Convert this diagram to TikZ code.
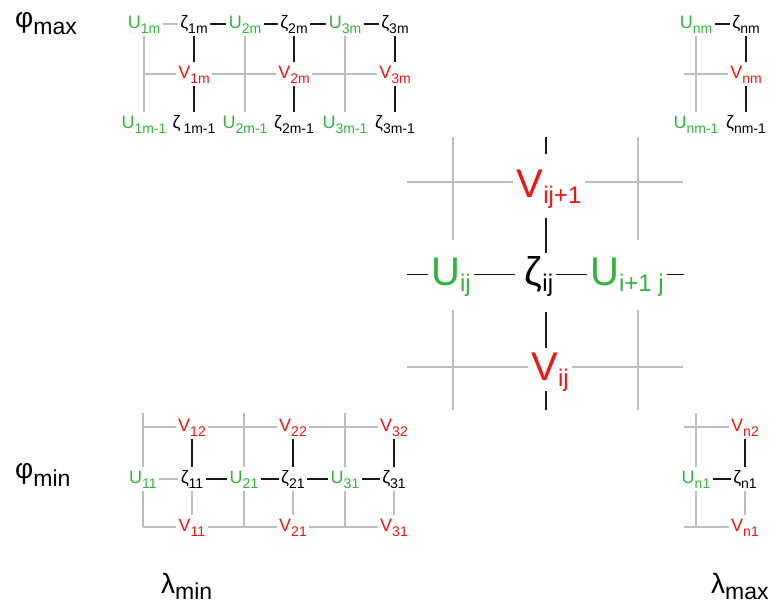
\documentclass[tikz,border=0pt]{standalone}
\usepackage{fontspec}
\setmainfont{Liberation Sans}
\definecolor{ug}{RGB}{50,180,60}
\definecolor{vr}{RGB}{240,20,20}
\definecolor{lg}{RGB}{190,190,190}
\definecolor{lk}{RGB}{25,25,25}
\newcommand\sml[2]{#1\raisebox{-5pt}{\fontsize{14}{14}\selectfont #2}}
\newcommand\bgl[2]{#1\raisebox{-6pt}{\fontsize{24}{24}\selectfont #2}}
\newcommand\axl[3]{#1\raisebox{-#3}{\fontsize{23}{23}\selectfont #2}}
\begin{document}
\begin{tikzpicture}[x=1pt,y=-1pt,
 sn/.style={font=\fontsize{18}{18}\selectfont, inner sep=2.5pt, text height=13pt, text depth=5pt, anchor=base},
 bn/.style={font=\fontsize{40}{40}\selectfont, inner sep=3pt, text height=29pt, text depth=8pt, anchor=base},
 cu/.style={text=ug}, cv/.style={text=vr}, cz/.style={text=black},
 gl/.style={draw=lg, line width=1.4pt},
 kl/.style={draw=lk, line width=1.4pt},
 axn/.style={font=\fontsize{28}{28}\selectfont, inner sep=0pt, anchor=base west}]
\useasboundingbox (0,0) rectangle (776,606);

% ---------- axis labels ----------
\node[axn] (pmax) at (15,27) {\axl{φ}{max}{7pt}};
\node[axn] (pmin) at (15,478) {\axl{φ}{min}{8pt}};
\node[axn] (lmin) at (161,593) {\axl{λ}{min}{6pt}};
\node[axn] (lmax) at (711,593) {\axl{λ}{max}{6pt}};

% ---------- top grid ----------
\node[sn,cu] (u1m) at (144,28) {\sml{U}{1m}};
\node[sn,cz] (z1m) at (194,28) {\sml{ζ}{1m}};
\node[sn,cu] (u2m) at (245,28) {\sml{U}{2m}};
\node[sn,cz] (z2m) at (294,28) {\sml{ζ}{2m}};
\node[sn,cu] (u3m) at (345,28) {\sml{U}{3m}};
\node[sn,cz] (z3m) at (395,28) {\sml{ζ}{3m}};
\node[sn,cv] (v1m) at (194,78) {\sml{V}{1m}};
\node[sn,cv] (v2m) at (294,78) {\sml{V}{2m}};
\node[sn,cv] (v3m) at (395,78) {\sml{V}{3m}};
\node[sn,cu] (u1mm) at (144,128) {\sml{U}{1m-1}};
\node[sn,cz] (z1mm) at (194,128) {\sml{ζ\kern3pt}{1m-1}};
\node[sn,cu] (u2mm) at (245,128) {\sml{U}{2m-1}};
\node[sn,cz] (z2mm) at (294,128) {\sml{ζ}{2m-1}};
\node[sn,cu] (u3mm) at (345,128) {\sml{U}{3m-1}};
\node[sn,cz] (z3mm) at (395,128) {\sml{ζ}{3m-1}};
\node[sn,cu] (unm) at (696,28) {\sml{U}{nm}};
\node[sn,cz] (znm) at (746,28) {\sml{ζ}{nm}};
\node[sn,cv] (vnm) at (746,78) {\sml{V}{nm}};
\node[sn,cu] (unmm) at (696,128) {\sml{U}{nm-1}};
\node[sn,cz] (znmm) at (746,128) {\sml{ζ}{nm-1}};

\draw[gl] (u1m) -- (z1m);
\draw[kl] (z1m) -- (u2m);
\draw[kl] (u2m) -- (z2m);
\draw[kl] (z2m) -- (u3m);
\draw[kl] (u3m) -- (z3m);
\draw[kl] (unm) -- (znm);
\draw[gl] (u1m) -- (u1mm);
\draw[gl] (u2m) -- (u2mm);
\draw[gl] (u3m) -- (u3mm);
\draw[gl] (unm) -- (unmm);
\draw[gl] (u1m |- v1m) -- (v1m);
\draw[gl] (v1m) -- (v2m);
\draw[gl] (v2m) -- (v3m);
\coordinate (hn) at (684,74);
\draw[gl] (hn) -- (vnm);
\draw[kl] (z1m) -- (v1m);
\draw[kl] (v1m) -- (z1mm);
\draw[kl] (z2m) -- (v2m);
\draw[kl] (v2m) -- (z2mm);
\draw[kl] (z3m) -- (v3m);
\draw[kl] (v3m) -- (z3mm);
\draw[kl] (znm) -- (vnm);
\draw[kl] (vnm) -- (znmm);

% ---------- bottom grid ----------
\node[sn,cv] (v12) at (192,431) {\sml{V}{12}};
\node[sn,cv] (v22) at (293,431) {\sml{V}{22}};
\node[sn,cv] (v32) at (394,431) {\sml{V}{32}};
\node[sn,cu] (u11) at (143,483) {\sml{U}{11}};
\node[sn,cz] (z11) at (192,483) {\sml{ζ}{11}};
\node[sn,cu] (u21) at (244,483) {\sml{U}{21}};
\node[sn,cz] (z21) at (293,483) {\sml{ζ}{21}};
\node[sn,cu] (u31) at (345,483) {\sml{U}{31}};
\node[sn,cz] (z31) at (394,483) {\sml{ζ}{31}};
\node[sn,cv] (v11) at (192,531) {\sml{V}{11}};
\node[sn,cv] (v21) at (293,531) {\sml{V}{21}};
\node[sn,cv] (v31) at (394,531) {\sml{V}{31}};
\node[sn,cv] (vn2) at (745,431) {\sml{V}{n2}};
\node[sn,cu] (un1) at (696,483) {\sml{U}{n1}};
\node[sn,cz] (zn1) at (745,483) {\sml{ζ}{n1}};
\node[sn,cv] (vn1) at (745,531) {\sml{V}{n1}};

\draw[gl] (u11) -- (z11);
\draw[kl] (z11) -- (u21);
\draw[kl] (u21) -- (z21);
\draw[kl] (z21) -- (u31);
\draw[kl] (u31) -- (z31);
\draw[kl] (un1) -- (zn1);
\draw[kl] (v12) -- (z11);
\draw[kl] (v22) -- (z21);
\draw[kl] (v32) -- (z31);
\draw[kl] (vn2) -- (zn1);
\draw[gl] (z11) -- (v11);
\draw[gl] (z21) -- (v21);
\draw[gl] (z31) -- (v31);
\draw[gl] (zn1) -- (vn1);
\coordinate (bt1) at (143,427);
\draw[gl] (bt1) -- (v12);
\draw[gl] (v12) -- (v22);
\draw[gl] (v22) -- (v32);
\coordinate (bs1) at (143,413);
\coordinate (bs2) at (244,413);
\coordinate (bs3) at (345,413);
\draw[gl] (bs1) -- (u11);
\draw[gl] (bs2) -- (u21);
\draw[gl] (bs3) -- (u31);
\draw[gl] (u11) -- (u11 |- v11);
\draw[gl] (u21) -- (u21 |- v11);
\draw[gl] (u31) -- (u31 |- v11);
\draw[gl] (u11 |- v11) -- (v11);
\draw[gl] (v11) -- (v21);
\draw[gl] (v21) -- (v31);
\coordinate (rt1) at (684,427);
\coordinate (rs1) at (696,413);
\coordinate (rb1) at (684,527);
\draw[gl] (rt1) -- (vn2);
\draw[gl] (rs1) -- (un1);
\draw[gl] (un1) -- (un1 |- vn1);
\draw[gl] (rb1) -- (vn1);

% ---------- centre cell ----------
\node[bn,cv] (vt) at (549,197) {\bgl{V}{ij+1}};
\node[bn,cz] (zc) at (539,285) {\bgl{ζ}{ij}};
\node[bn,cu] (ul) at (451,285) {\bgl{U}{ij}};
\node[bn,cu] (ur) at (627,285) {\bgl{U}{i+1 j}};
\node[bn,cv] (vb) at (550,380) {\bgl{V}{ij}};

\coordinate (ga1) at (453,137); \coordinate (ga2) at (453,240);
\coordinate (ga3) at (453,310); \coordinate (ga4) at (453,410);
\coordinate (gb1) at (638,137); \coordinate (gb2) at (638,240);
\coordinate (gb3) at (638,310); \coordinate (gb4) at (638,410);
\draw[gl] (ga1) -- (ga2);
\draw[gl] (ga3) -- (ga4);
\draw[gl] (gb1) -- (gb2);
\draw[gl] (gb3) -- (gb4);
\coordinate (gh1) at (407,182); \coordinate (gh2) at (683,182);
\coordinate (gh3) at (407,367); \coordinate (gh4) at (683,367);
\draw[gl] (gh1) -- (gh1 -| vt.west);
\draw[gl] (gh2) -- (gh2 -| vt.east);
\draw[gl] (gh3) -- (gh3 -| vb.west);
\draw[gl] (gh4) -- (gh4 -| vb.east);

\coordinate (kt) at (546,137); \coordinate (kb) at (546,410);
\draw[kl, shorten >=11pt] (kt) -- (kt |- vt.north);
\draw[kl, shorten <=10pt] (kt |- vt.south) -- (kt |- zc.north);
\draw[kl, shorten <=16pt] (kt |- zc.south) -- (kt |- vb.north);
\draw[kl] (kt |- vb.south) -- (kb);
\coordinate (kl0) at (407,274.5); \coordinate (kr0) at (684,274.5);
\draw[kl] (kl0) -- (ul);
\draw[kl, shorten >=7pt] (ul) -- (zc);
\draw[kl] (zc) -- (ur);
\draw[kl] (ur) -- (kr0);
\end{tikzpicture}
\end{document}
